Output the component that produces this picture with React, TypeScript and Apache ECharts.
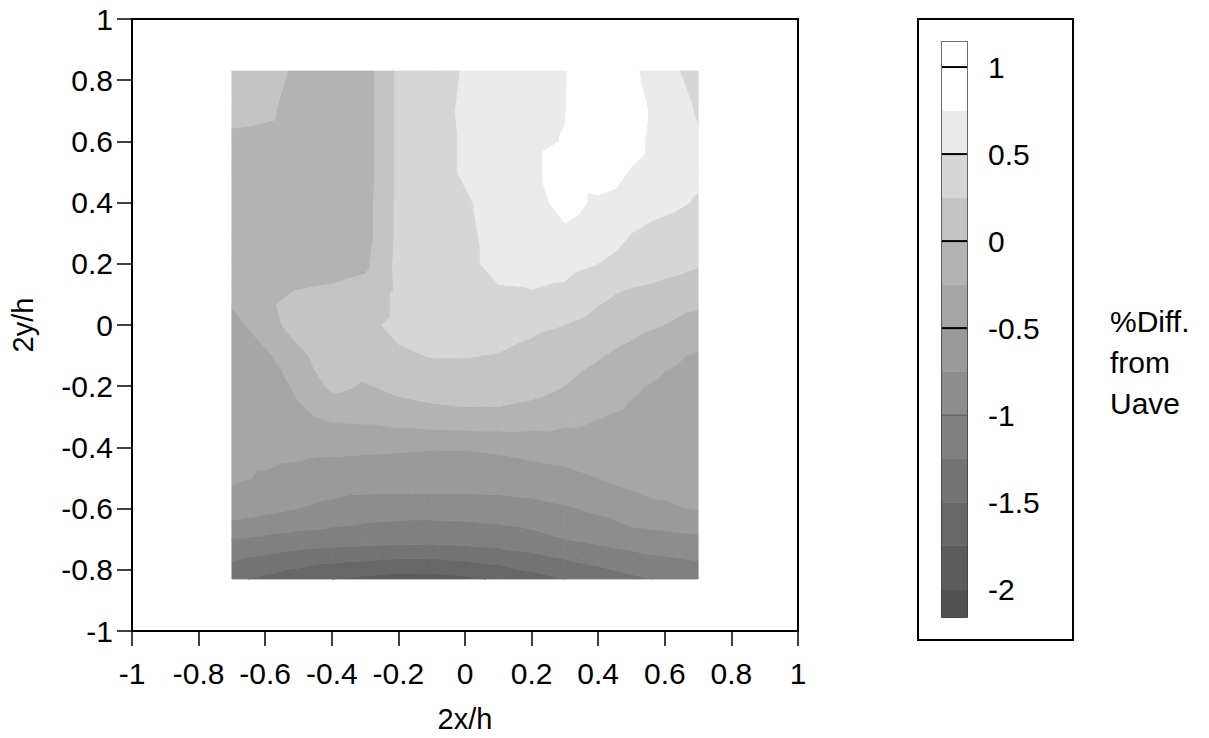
import React, { useEffect, useRef } from "react";
import * as echarts from "echarts";

// Measurement grid: 2x/h columns and 2y/h rows (top to bottom)
const xs = [-0.7, -0.6, -0.5, -0.4, -0.3, -0.2, -0.1, 0, 0.1, 0.2, 0.3, 0.4, 0.5, 0.6, 0.7];
const ys = [0.83, 0.7, 0.6, 0.5, 0.4, 0.3, 0.2, 0.1, 0, -0.1, -0.2, -0.3, -0.4, -0.5, -0.6, -0.7, -0.83];

// % difference from the average velocity at each grid node, one row per ys entry
const diff = [
  [0.12, 0.1, -0.05, -0.12, -0.12, 0.3, 0.38, 0.52, 0.62, 0.68, 0.73, 1.0, 0.8, 0.58, 0.4],
  [0.08, 0.05, -0.1, -0.12, -0.12, 0.3, 0.4, 0.54, 0.64, 0.7, 0.74, 1.05, 0.88, 0.62, 0.48],
  [-0.06, -0.08, -0.12, -0.15, -0.12, 0.3, 0.4, 0.53, 0.64, 0.7, 0.76, 1.05, 0.85, 0.6, 0.52],
  [-0.1, -0.12, -0.15, -0.15, -0.12, 0.3, 0.4, 0.53, 0.64, 0.7, 0.85, 0.9, 0.73, 0.6, 0.54],
  [-0.12, -0.14, -0.15, -0.15, -0.1, 0.3, 0.4, 0.47, 0.6, 0.64, 0.85, 0.7, 0.62, 0.56, 0.48],
  [-0.12, -0.15, -0.15, -0.15, -0.1, 0.3, 0.4, 0.45, 0.58, 0.66, 0.7, 0.6, 0.5, 0.42, 0.36],
  [-0.15, -0.15, -0.12, -0.1, -0.05, 0.32, 0.4, 0.45, 0.56, 0.6, 0.58, 0.5, 0.42, 0.34, 0.27],
  [-0.18, -0.05, 0.02, 0.05, 0.1, 0.3, 0.4, 0.44, 0.47, 0.48, 0.44, 0.3, 0.2, 0.15, 0.1],
  [-0.35, -0.1, 0.1, 0.15, 0.2, 0.3, 0.35, 0.38, 0.35, 0.3, 0.25, 0.16, 0.08, 0.0, -0.1],
  [-0.42, -0.3, -0.05, 0.12, 0.15, 0.22, 0.26, 0.26, 0.24, 0.18, 0.1, 0.02, -0.08, -0.2, -0.28],
  [-0.45, -0.4, -0.2, 0.05, -0.02, 0.06, 0.1, 0.12, 0.12, 0.08, 0.0, -0.1, -0.22, -0.3, -0.35],
  [-0.38, -0.36, -0.3, -0.2, -0.18, -0.12, -0.08, -0.06, -0.06, -0.1, -0.16, -0.24, -0.3, -0.35, -0.38],
  [-0.44, -0.44, -0.45, -0.46, -0.47, -0.48, -0.49, -0.49, -0.47, -0.44, -0.42, -0.4, -0.4, -0.4, -0.42],
  [-0.47, -0.52, -0.56, -0.6, -0.6, -0.6, -0.6, -0.6, -0.6, -0.58, -0.55, -0.5, -0.46, -0.45, -0.46],
  [-0.6, -0.68, -0.75, -0.82, -0.88, -0.9, -0.9, -0.9, -0.88, -0.84, -0.78, -0.7, -0.56, -0.52, -0.49],
  [-1.0, -1.05, -1.1, -1.12, -1.14, -1.16, -1.17, -1.15, -1.12, -1.08, -1.0, -0.94, -0.88, -0.84, -0.8],
  [-1.45, -1.55, -1.65, -1.75, -1.8, -1.85, -1.85, -1.8, -1.72, -1.6, -1.5, -1.4, -1.3, -1.22, -1.17],
];

// Contour levels and the grey used for each band (below the first level ... above the last)
const levels = [-2, -1.75, -1.5, -1.25, -1, -0.75, -0.5, -0.25, 0, 0.25, 0.5, 0.75, 1];
const bandGrays = [
  "#525252", "#5c5c5c", "#676767", "#737373", "#808080", "#8d8d8d", "#9a9a9a",
  "#a6a6a6", "#b3b3b3", "#c4c4c4", "#d6d6d6", "#ebebeb", "#ffffff", "#ffffff",
];

// Colour bar
const barMin = -2.16;
const barMax = 1.144;
const barLabels = [1, 0.5, 0, -0.5, -1, -1.5, -2];
const barLines = [1, 0.5, 0, -0.5];
const barFaintLines = [-1];

const FONT = "'Liberation Sans', Arial, Helvetica, sans-serif";

type Pt = { x: number; y: number; v: number };

// Keep the part of a polygon (linear field v) above or below threshold t
function clip(poly: Pt[], t: number, keepAbove: boolean): Pt[] {
  const out: Pt[] = [];
  const inside = (p: Pt) => (keepAbove ? p.v >= t : p.v <= t);
  for (let k = 0; k < poly.length; k++) {
    const a = poly[k];
    const b = poly[(k + 1) % poly.length];
    const ia = inside(a);
    const ib = inside(b);
    if (ia) out.push(a);
    if (ia !== ib) {
      const s = (t - a.v) / (b.v - a.v);
      out.push({ x: a.x + s * (b.x - a.x), y: a.y + s * (b.y - a.y), v: t });
    }
  }
  return out;
}

function bandRange(k: number): [number, number] {
  const lo = k === 0 ? -Infinity : levels[k - 1];
  const hi = k === levels.length ? Infinity : levels[k];
  return [lo, hi];
}

export default function App() {
  const ref = useRef<HTMLDivElement>(null);

  useEffect(() => {
    if (!ref.current) return;
    const chart = echarts.init(ref.current, null, { renderer: "svg" });

    const cells: number[][] = [];
    for (let j = 0; j < ys.length - 1; j++) {
      for (let i = 0; i < xs.length - 1; i++) {
        cells.push([xs[i], ys[j], i, j]);
      }
    }

    const barData: number[][] = [];
    for (let k = 0; k <= levels.length; k++) {
      const [lo, hi] = bandRange(k);
      const a = Math.max(lo, barMin);
      const b = Math.min(hi, barMax);
      barData.push([0.5, (a + b) / 2, a, b, k]);
    }

    const axisText = { fontFamily: FONT, fontSize: 30, color: "#000" };
    const titleText = { fontFamily: FONT, fontSize: 29, color: "#000" };

    chart.setOption({
      animation: false,
      textStyle: { fontFamily: FONT },
      grid: [
        { left: 129, top: 19, width: 669, height: 614, show: true, borderColor: "#000", borderWidth: 2 },
        { left: 942, top: 42, width: 25, height: 575, show: true, borderColor: "#000", borderWidth: 1.5 },
      ],
      xAxis: [
        {
          gridIndex: 0,
          type: "value",
          min: -1,
          max: 1,
          interval: 0.2,
          axisLine: { show: true, onZero: false, lineStyle: { color: "#000", width: 2 } },
          axisTick: { show: true, inside: false, length: 15, lineStyle: { color: "#000", width: 1.5 } },
          axisLabel: { ...axisText, margin: 27 },
          splitLine: { show: false },
          name: "2x/h",
          nameLocation: "middle",
          nameGap: 73,
          nameTextStyle: { ...titleText },
        },
        { gridIndex: 1, type: "value", min: 0, max: 1, show: false },
      ],
      yAxis: [
        {
          gridIndex: 0,
          type: "value",
          min: -1,
          max: 1,
          interval: 0.2,
          axisLine: { show: true, onZero: false, lineStyle: { color: "#000", width: 2 } },
          axisTick: { show: true, inside: false, length: 15, lineStyle: { color: "#000", width: 1.5 } },
          axisLabel: { ...axisText, margin: 19 },
          splitLine: { show: false },
          name: "2y/h",
          nameLocation: "middle",
          nameGap: 95,
          nameTextStyle: { ...titleText },
        },
        {
          gridIndex: 1,
          type: "value",
          position: "right",
          min: barMin,
          max: barMax,
          axisLine: { show: false },
          axisTick: { show: false },
          splitLine: { show: false },
          axisLabel: {
            ...axisText,
            margin: 21,
            customValues: barLabels,
            formatter: (v: number) => String(v),
            padding: [12, 0, 0, 0],
          },
        },
      ],
      series: [
        {
          type: "custom",
          xAxisIndex: 0,
          yAxisIndex: 0,
          data: cells,
          encode: { x: 0, y: 1 },
          renderItem: (_params: any, api: any) => {
            const i = api.value(2);
            const j = api.value(3);
            const p00: Pt = { x: xs[i], y: ys[j], v: diff[j][i] };
            const p10: Pt = { x: xs[i + 1], y: ys[j], v: diff[j][i + 1] };
            const p01: Pt = { x: xs[i], y: ys[j + 1], v: diff[j + 1][i] };
            const p11: Pt = { x: xs[i + 1], y: ys[j + 1], v: diff[j + 1][i + 1] };
            const tris = [
              [p00, p10, p11],
              [p00, p11, p01],
            ];
            const children: any[] = [];
            for (const tri of tris) {
              for (let k = 0; k <= levels.length; k++) {
                const [lo, hi] = bandRange(k);
                let poly: Pt[] = tri;
                if (isFinite(lo)) poly = clip(poly, lo, true);
                if (poly.length >= 3 && isFinite(hi)) poly = clip(poly, hi, false);
                if (poly.length < 3) continue;
                const pts = poly.map((p) => api.coord([p.x, p.y]));
                children.push({
                  type: "polygon",
                  shape: { points: pts },
                  style: { fill: bandGrays[k], stroke: bandGrays[k], lineWidth: 0.8 },
                  silent: true,
                });
              }
            }
            return { type: "group", children };
          },
        },
        {
          type: "custom",
          xAxisIndex: 1,
          yAxisIndex: 1,
          data: barData,
          encode: { x: 0, y: 1 },
          renderItem: (_params: any, api: any) => {
            const lo = api.value(2);
            const hi = api.value(3);
            const k = api.value(4);
            const a = api.coord([0, hi]);
            const b = api.coord([1, lo]);
            const children: any[] = [
              {
                type: "rect",
                shape: { x: a[0], y: a[1], width: b[0] - a[0], height: b[1] - a[1] },
                style: { fill: bandGrays[k], stroke: bandGrays[k], lineWidth: 0.5 },
              },
            ];
            if (barLines.indexOf(hi) >= 0) {
              children.push({
                type: "line",
                shape: { x1: a[0], y1: a[1], x2: b[0], y2: a[1] },
                style: { stroke: "#000", lineWidth: 2 },
                z2: 10,
              });
            }
            if (barFaintLines.indexOf(hi) >= 0) {
              children.push({
                type: "line",
                shape: { x1: a[0], y1: a[1], x2: b[0], y2: a[1] },
                style: { stroke: "#555", lineWidth: 1 },
                z2: 10,
              });
            }
            return { type: "group", children };
          },
        },
      ],
      graphic: [
        {
          type: "rect",
          shape: { x: 918, y: 19, width: 155, height: 621 },
          style: { fill: "none", stroke: "#000", lineWidth: 2 },
          silent: true,
        },
        {
          type: "text",
          x: 1110,
          y: 301,
          style: {
            text: "%Diff.\nfrom\nUave",
            font: `30px ${FONT}`,
            lineHeight: 41,
            fill: "#000",
            verticalAlign: "top",
            align: "left",
          },
        },
      ],
    });

    return () => chart.dispose();
  }, []);

  return (
    <div
      ref={ref}
      style={{ position: "fixed", left: 0, top: 0, width: 1209, height: 738, background: "#fff" }}
    />
  );
}
